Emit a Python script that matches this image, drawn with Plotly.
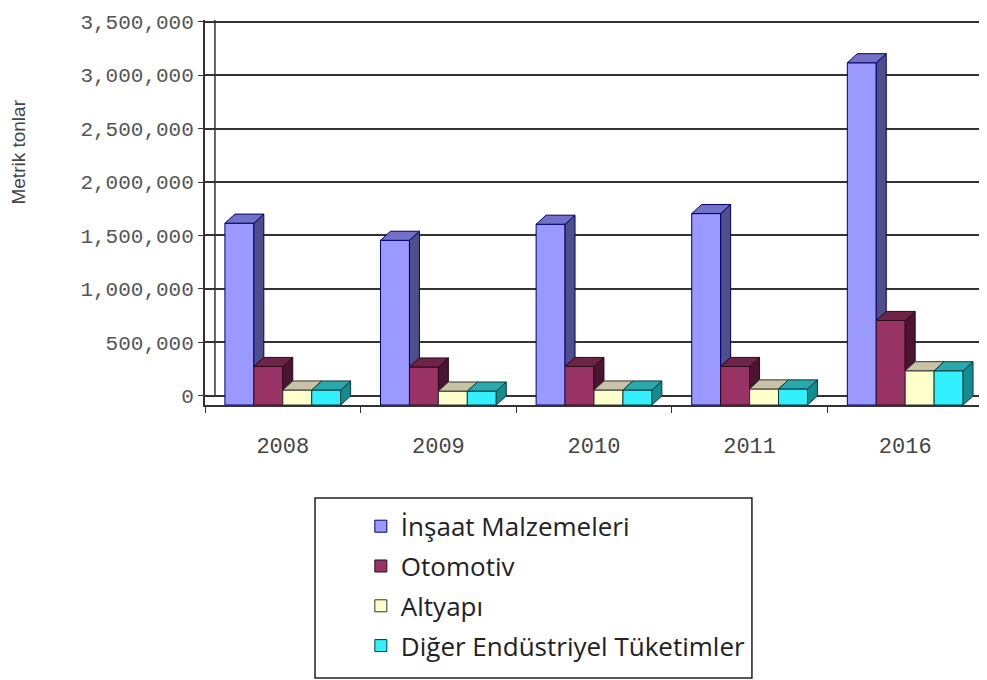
import plotly.graph_objects as go

# ---------------- data ----------------
years = ["2008", "2009", "2010", "2011", "2016"]
series_names = ["İnşaat Malzemeleri", "Otomotiv", "Altyapı", "Diğer Endüstriyel Tüketimler"]
insaat = [1700000, 1540000, 1690000, 1790000, 3200000]
otomotiv = [360000, 355000, 360000, 360000, 790000]
altyapi = [140000, 130000, 140000, 150000, 320000]
diger = [140000, 130000, 140000, 150000, 320000]
y_tick_values = [0, 500000, 1000000, 1500000, 2000000, 2500000, 3000000, 3500000]

series_values = [insaat, otomotiv, altyapi, diger]

# ---------------- style ----------------
front_colors = ["#9999FF", "#993366", "#FFFFCC", "#33F0FF"]
top_colors = ["#7272C8", "#6E2446", "#C8C2A6", "#2AA8AC"]
side_colors = ["#4E4E8C", "#4A1530", "#A8A68A", "#138C90"]
edge_colors = ["#000066", "#2A0A18", "#333333", "#0A3A3C"]

W = 0.186      # bar width (category units)
DX = 0.064     # depth, horizontal (category units)
DY = 85000     # depth, vertical (value units)
Y_MAX = 3600000

fig = go.Figure()

n_s = len(series_values)
offsets = [(k - (n_s - 1) / 2) * W for k in range(n_s)]
xs_cat = list(range(len(years)))

for k, (name, vals) in enumerate(zip(series_names, series_values)):
    xpos = [i + offsets[k] for i in xs_cat]
    fig.add_trace(go.Bar(
        x=xpos, y=vals, width=W, name=name,
        legendgroup=name,
        marker=dict(color=front_colors[k], line=dict(color=edge_colors[k], width=1)),
        hoverinfo="name+y",
    ))

# 3D faces (computed from the same data through the same axes)
for k, vals in enumerate(series_values):
    nxt = series_values[k + 1] if k + 1 < n_s else [0] * len(vals)
    side_x, side_y, top_x, top_y = [], [], [], []
    for i, v in enumerate(vals):
        xc = i + offsets[k]
        xl, xr = xc - W / 2, xc + W / 2
        vn = nxt[i]
        top_x += [xl, xl + DX, xr + DX, xr, xl, None]
        top_y += [v, v + DY, v + DY, v, v, None]
        if vn < v:
            side_x += [xr, xr + DX, xr + DX, xr, xr, None]
            side_y += [vn, vn + DY, v + DY, v, vn, None]
    fig.add_trace(go.Scatter(
        x=side_x, y=side_y, mode="lines", fill="toself",
        fillcolor=side_colors[k], line=dict(color=edge_colors[k], width=1),
        showlegend=False, hoverinfo="skip",
    ))
    fig.add_trace(go.Scatter(
        x=top_x, y=top_y, mode="lines", fill="toself",
        fillcolor=top_colors[k], line=dict(color=edge_colors[k], width=1),
        showlegend=False, hoverinfo="skip",
    ))

# invisible trace to activate the back-wall axis (y2)
fig.add_trace(go.Scatter(x=[None], y=[None], yaxis="y2", showlegend=False, hoverinfo="skip"))

fig.update_layout(
    width=979, height=672,
    margin=dict(l=197, r=4, t=12, b=275, autoexpand=False),
    paper_bgcolor="white", plot_bgcolor="white",
    barmode="overlay",
    showlegend=True,
    xaxis=dict(
        range=[-0.5, len(years) - 0.5],
        tickmode="array", tickvals=xs_cat, ticktext=years,
        ticks="outside", ticklen=20, tickcolor="rgba(0,0,0,0)",
        tickfont=dict(family="Liberation Mono", size=22, color="#444444"),
        minor=dict(tickmode="array", tickvals=[i - 0.5 for i in range(len(years) + 1)],
                   ticks="outside", ticklen=6, tickcolor="#333333", showgrid=False),
        showline=True, linecolor="#333333", linewidth=2,
        showgrid=False, zeroline=False, fixedrange=True,
    ),
    yaxis=dict(
        range=[0, Y_MAX],
        showticklabels=False, ticks="", showgrid=False, zeroline=False,
        showline=True, linecolor="#333333", linewidth=1.5,
    ),
    yaxis2=dict(
        overlaying="y", side="left",
        range=[-DY, Y_MAX - DY],
        tickmode="array", tickvals=y_tick_values, tickformat=",d",
        ticks="outside", ticklen=6, tickcolor="#333333",
        tickfont=dict(family="Liberation Mono", size=21, color="#555555"),
        showgrid=True, gridcolor="#333333", gridwidth=1.6,
        zeroline=True, zerolinecolor="#333333", zerolinewidth=1.6,
        showline=False,
    ),
    legend=dict(
        x=0.2003, y=-0.254, xanchor="left", yanchor="top",
        font=dict(family="Open Sans", size=26, color="#222222"),
        bgcolor="rgba(0,0,0,0)", borderwidth=0,
        tracegroupgap=3, traceorder="grouped",
    ),
    shapes=[
        dict(type="rect", xref="paper", yref="paper",
             x0=0.1414, x1=0.703, y0=-0.2416, y1=-0.709,
             line=dict(color="#222222", width=1.5), fillcolor="rgba(0,0,0,0)", layer="below"),
        dict(type="line", xref="x", yref="y",
             x0=-0.5 + DX, x1=-0.5 + DX, y0=DY, y1=Y_MAX,
             line=dict(color="#333333", width=1.5), layer="below"),
    ],
    annotations=[
        dict(text="Metrik tonlar", xref="paper", yref="paper",
             x=-0.2558, y=0.657, textangle=-90, showarrow=False,
             font=dict(family="Liberation Sans", size=19, color="#444444")),
    ],
)

fig.write_html("out.html")
